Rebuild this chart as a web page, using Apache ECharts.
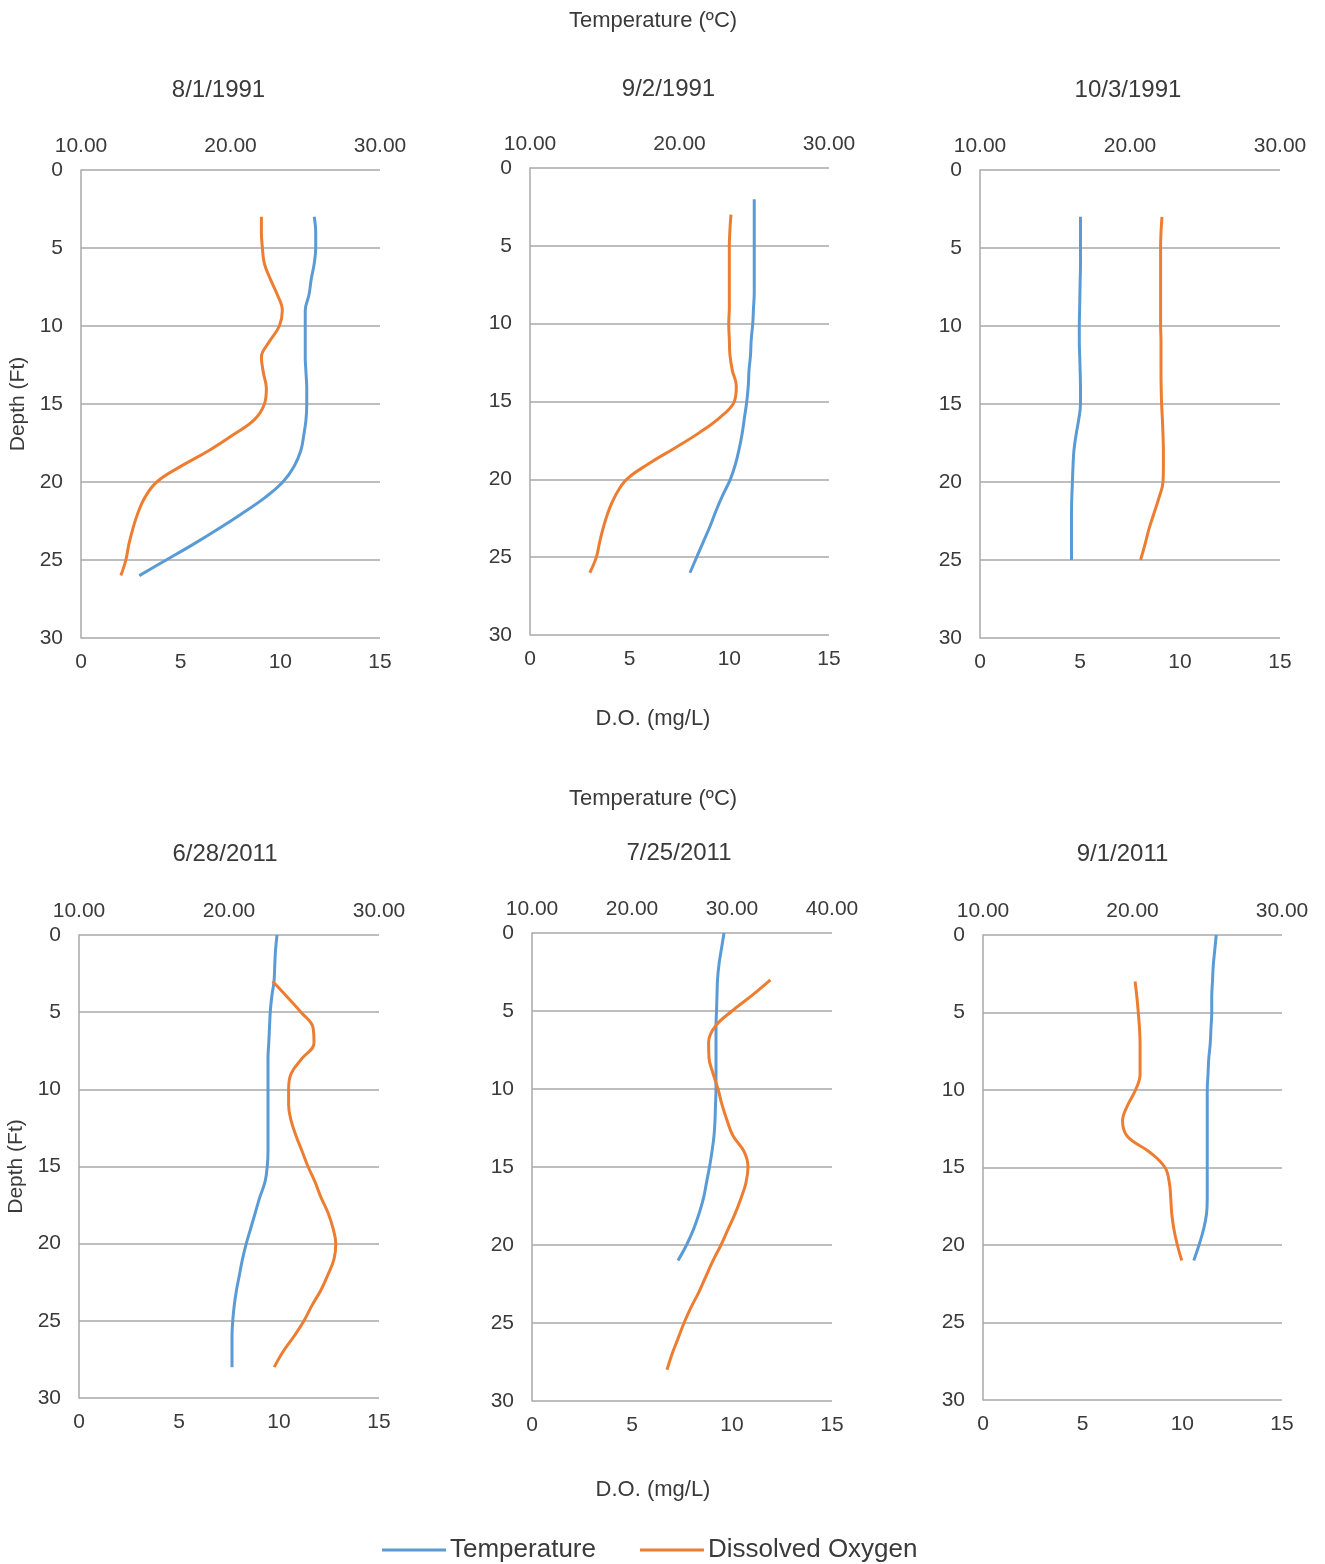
<!DOCTYPE html>
<html>
<head>
<meta charset="utf-8">
<script src="https://cdn.jsdelivr.net/npm/echarts@6/dist/echarts.min.js"></script>
<style>
html,body{margin:0;padding:0;background:#fff;}
#chart{width:1325px;height:1564px;}
</style>
</head>
<body>
<div id="chart"></div>
<script>
// ---------- DATA ----------
const panelTitles = ['8/1/1991', '9/2/1991', '10/3/1991', '6/28/2011', '7/25/2011', '9/1/2011'];
const seriesNames = ['Temperature', 'Dissolved Oxygen'];
const tempAxisMax = [30, 30, 30, 30, 40, 30];
const depthTicks = [0, 5, 10, 15, 20, 25, 30];

// 8/1/1991
const p1Depth = [3,4,5,6,7,8,9,10,11,12,13,14,15,16,17,18,19,20,21,22,23,24,25,26];
const p1Temp = [25.6,25.7,25.7,25.6,25.4,25.25,25.0,25.0,25.0,25.0,25.05,25.1,25.1,25.05,24.9,24.7,24.25,23.5,22.3,20.8,19.2,17.5,15.7,13.9];
const p1DO = [9.05,9.05,9.1,9.2,9.5,9.85,10.1,9.95,9.45,9.05,9.15,9.3,9.2,8.7,7.6,6.4,5.0,3.8,3.2,2.85,2.6,2.4,2.25,2.0];

// 9/2/1991
const p2TempDepth = [2,3,4,5,6,7,8,9,10,11,12,13,14,15,16,17,18,19,20,21,22,23,24,25,26];
const p2Temp = [25.0,25.0,25.0,25.0,25.0,25.0,25.0,24.95,24.9,24.8,24.75,24.65,24.6,24.5,24.35,24.2,24.0,23.75,23.4,22.9,22.45,22.05,21.6,21.15,20.7];
const p2DODepth = [3,4,5,6,7,8,9,10,11,12,13,14,15,16,17,18,19,20,21,22,23,24,25,26];
const p2DO = [10.08,10.03,10.0,10.0,10.0,10.0,10.0,9.97,10.0,10.03,10.15,10.35,10.25,9.55,8.5,7.25,5.95,4.85,4.3,3.95,3.7,3.5,3.33,3.0];

// 10/3/1991
const p3Depth = [3,4,5,6,7,8,9,10,11,12,13,14,15,16,17,18,19,20,21,22,23,24,25];
const p3Temp = [16.7,16.7,16.7,16.7,16.68,16.66,16.64,16.62,16.62,16.65,16.68,16.7,16.7,16.58,16.4,16.26,16.2,16.16,16.12,16.1,16.1,16.1,16.1];
const p3DO = [9.1,9.05,9.03,9.03,9.03,9.03,9.03,9.03,9.05,9.05,9.05,9.06,9.08,9.12,9.15,9.17,9.17,9.15,8.95,8.7,8.45,8.25,8.03];

// 6/28/2011
const p4TempDepth = [0,1,2,3,4,5,6,7,8,9,10,11,12,13,14,15,16,17,18,19,20,21,22,23,24,25,26,27,28];
const p4Temp = [23.2,23.1,23.05,23.0,22.85,22.75,22.7,22.65,22.6,22.6,22.6,22.6,22.6,22.6,22.6,22.55,22.4,22.05,21.75,21.45,21.15,20.9,20.7,20.5,20.35,20.25,20.2,20.2,20.2];
const p4DODepth = [3,4,5,6,7,8,9,10,11,12,13,14,15,16,17,18,19,20,21,22,23,24,25,26,27,28];
const p4DO = [9.68,10.4,11.1,11.7,11.75,11.15,10.6,10.48,10.48,10.6,10.85,11.15,11.45,11.8,12.1,12.45,12.7,12.84,12.75,12.45,12.1,11.65,11.25,10.75,10.2,9.76];

// 7/25/2011
const p5TempDepth = [0,1,2,3,4,5,6,7,8,9,10,11,12,13,14,15,16,17,18,19,20,21];
const p5Temp = [29.2,28.95,28.7,28.55,28.5,28.45,28.4,28.4,28.4,28.4,28.4,28.35,28.3,28.2,28.0,27.75,27.45,27.15,26.7,26.15,25.45,24.6];
const p5DODepth = [3,4,5,6,7,8,9,10,11,12,13,14,15,16,17,18,19,20,21,22,23,24,25,26,27,28];
const p5DO = [11.92,11.0,10.0,9.15,8.83,8.85,9.05,9.3,9.5,9.75,10.05,10.6,10.8,10.7,10.45,10.15,9.8,9.45,9.05,8.7,8.35,7.95,7.6,7.3,7.0,6.75];

// 9/1/2011
const p6TempDepth = [0,1,2,3,4,5,6,7,8,9,10,11,12,13,14,15,16,17,18,19,20,21];
const p6Temp = [25.6,25.5,25.4,25.35,25.3,25.3,25.25,25.2,25.1,25.05,25.0,25.0,25.0,25.0,25.0,25.0,25.0,25.0,24.95,24.75,24.45,24.1];
const p6DODepth = [3,4,5,6,7,8,9,10,11,12,13,14,15,16,17,18,19,20,21];
const p6DO = [7.63,7.72,7.79,7.85,7.88,7.88,7.88,7.65,7.25,7.0,7.25,8.35,9.13,9.35,9.42,9.47,9.58,9.75,9.97];

const panelData = [
  {tD: p1Depth, t: p1Temp, oD: p1Depth, o: p1DO},
  {tD: p2TempDepth, t: p2Temp, oD: p2DODepth, o: p2DO},
  {tD: p3Depth, t: p3Temp, oD: p3Depth, o: p3DO},
  {tD: p4TempDepth, t: p4Temp, oD: p4DODepth, o: p4DO},
  {tD: p5TempDepth, t: p5Temp, oD: p5DODepth, o: p5DO},
  {tD: p6TempDepth, t: p6Temp, oD: p6DODepth, o: p6DO}
];

// ---------- LAYOUT ----------
const layout = [
  {left: 81, top: 170, width: 299, height: 468},
  {left: 530, top: 168, width: 299, height: 467},
  {left: 980, top: 170, width: 300, height: 468},
  {left: 79, top: 935, width: 300, height: 463},
  {left: 532, top: 933, width: 300, height: 468},
  {left: 983, top: 935, width: 299, height: 465}
];
const titleY = [73, 72, 73, 837, 836, 837];
const titleOffset = [-17, -16, -7, -9, -8, -15];

const TXT = '#3a3a3a';
const GRIDC = '#a8a8a8';
const FONT = 'Liberation Sans, Arial, sans-serif';
const BLUE = '#5b9bd5';
const ORANGE = '#ed7d31';

const grids = [], xAxes = [], yAxes = [], series = [], titles = [];
layout.forEach((g, i) => {
  grids.push({left: g.left, top: g.top, width: g.width, height: g.height, containLabel: false});
  // D.O. axis (bottom)
  xAxes.push({
    type: 'value', gridIndex: i, position: 'bottom', min: 0, max: 15, interval: 5,
    axisLine: {show: false}, axisTick: {show: false}, splitLine: {show: false},
    axisLabel: {color: TXT, fontSize: 21, fontFamily: FONT, margin: 14}
  });
  // Temperature axis (top)
  xAxes.push({
    type: 'value', gridIndex: i, position: 'top', min: 10, max: tempAxisMax[i], interval: 10,
    axisLine: {show: false}, axisTick: {show: false}, splitLine: {show: false},
    axisLabel: {color: TXT, fontSize: 21, fontFamily: FONT, margin: 13, formatter: v => v.toFixed(2)}
  });
  const showName = (i === 0 || i === 3);
  yAxes.push({
    type: 'value', gridIndex: i, inverse: true, min: 0, max: 30, interval: 5,
    name: showName ? 'Depth (Ft)' : '', nameLocation: 'middle', nameRotate: 90, nameGap: 52,
    nameTextStyle: {color: TXT, fontSize: 21, fontFamily: FONT},
    axisLine: {show: true, lineStyle: {color: GRIDC, width: 1.5}},
    axisTick: {show: false},
    splitLine: {show: true, lineStyle: {color: GRIDC, width: 1.5}},
    axisLabel: {color: TXT, fontSize: 21, fontFamily: FONT, margin: 18}
  });
  const d = panelData[i];
  series.push({
    name: seriesNames[0], type: 'line', xAxisIndex: 2 * i + 1, yAxisIndex: i,
    data: d.t.map((v, k) => [v, d.tD[k]]), smooth: 0.4, showSymbol: false, symbol: 'none',
    lineStyle: {color: BLUE, width: 3}, itemStyle: {color: BLUE}
  });
  series.push({
    name: seriesNames[1], type: 'line', xAxisIndex: 2 * i, yAxisIndex: i,
    data: d.o.map((v, k) => [v, d.oD[k]]), smooth: 0.4, showSymbol: false, symbol: 'none',
    lineStyle: {color: ORANGE, width: 3}, itemStyle: {color: ORANGE}
  });
  titles.push({
    text: panelTitles[i], left: g.left + g.width / 2 + titleOffset[i], top: titleY[i], textAlign: 'center',
    textStyle: {color: TXT, fontSize: 24, fontWeight: 'normal', fontFamily: FONT}
  });
});
[[5, 'Temperature (ºC)'], [703, 'D.O. (mg/L)'], [783, 'Temperature (ºC)'], [1474, 'D.O. (mg/L)']].forEach(([y, t]) => {
  titles.push({text: t, left: 648, top: y, textAlign: 'center',
    textStyle: {color: TXT, fontSize: 22, fontWeight: 'normal', fontFamily: FONT}});
});

const chart = echarts.init(document.getElementById('chart'), null, {renderer: 'canvas'});
chart.setOption({
  backgroundColor: '#ffffff',
  animation: false,
  title: titles,
  grid: grids,
  xAxis: xAxes,
  yAxis: yAxes,
  legend: {
    data: [
      {name: seriesNames[0], icon: 'rect', itemStyle: {color: BLUE}},
      {name: seriesNames[1], icon: 'rect', itemStyle: {color: ORANGE}}
    ],
    left: 377, top: 1532, itemWidth: 64, itemHeight: 3, itemGap: 44,
    textStyle: {color: TXT, fontSize: 26, fontFamily: FONT, padding: [0, 0, 0, -1]}
  },
  series: series
});
</script>
</body>
</html>
